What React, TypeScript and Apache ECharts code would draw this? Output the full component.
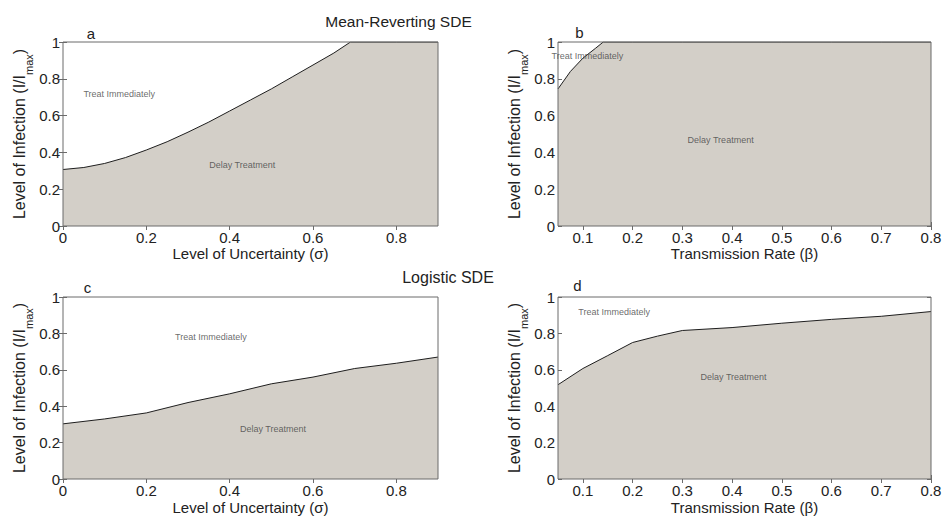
import { useEffect, useRef } from "react";
import * as echarts from "echarts";

// Panel a: Mean-Reverting SDE, boundary vs. level of uncertainty
const sigmaA = [0, 0.05, 0.1, 0.15, 0.2, 0.25, 0.3, 0.35, 0.4, 0.45, 0.5, 0.55, 0.6, 0.65, 0.69, 0.8, 0.9];
const levelA = [0.307, 0.318, 0.34, 0.372, 0.413, 0.458, 0.51, 0.565, 0.625, 0.685, 0.745, 0.81, 0.875, 0.94, 1, 1, 1];
// Panel b: Mean-Reverting SDE, boundary vs. transmission rate
const betaB = [0.05, 0.075, 0.1, 0.125, 0.141, 0.2, 0.3, 0.4, 0.5, 0.6, 0.7, 0.8];
const levelB = [0.745, 0.84, 0.912, 0.965, 1, 1, 1, 1, 1, 1, 1, 1];
// Panel c: Logistic SDE, boundary vs. level of uncertainty
const sigmaC = [0, 0.1, 0.2, 0.3, 0.4, 0.5, 0.6, 0.7, 0.8, 0.9];
const levelC = [0.303, 0.33, 0.363, 0.42, 0.468, 0.523, 0.56, 0.607, 0.636, 0.67];
// Panel d: Logistic SDE, boundary vs. transmission rate
const betaD = [0.05, 0.1, 0.15, 0.2, 0.25, 0.3, 0.4, 0.5, 0.6, 0.7, 0.8];
const levelD = [0.518, 0.607, 0.678, 0.75, 0.785, 0.816, 0.832, 0.856, 0.877, 0.894, 0.92];

const sigmaTicks = [0, 0.2, 0.4, 0.6, 0.8];
const betaTicks = [0.1, 0.2, 0.3, 0.4, 0.5, 0.6, 0.7, 0.8];
const levelTicks = [0, 0.2, 0.4, 0.6, 0.8, 1];

const panelLetters = ["a", "b", "c", "d"];
const rowTitles = ["Mean-Reverting SDE", "Logistic SDE"];
const regionLabels = ["Treat Immediately", "Delay Treatment"];
// annotation anchor points in data coordinates [treat, delay] per panel
const annotA = [[0.135, 0.72], [0.43, 0.33]];
const annotB = [[0.109, 0.925], [0.377, 0.467]];
const annotC = [[0.355, 0.78], [0.504, 0.275]];
const annotD = [[0.163, 0.92], [0.403, 0.563]];

const FONT = "'Liberation Sans', Arial, Helvetica, sans-serif";
const TXT = "#222";
const FILL = "#d3cfc8";
const FRAME = "#6b6b6b";

export default function App() {
  const ref = useRef<HTMLDivElement>(null);
  useEffect(() => {
    if (!ref.current) return;
    const chart = echarts.init(ref.current, undefined, { renderer: "svg" });

    const grids = [
      { left: 63, top: 42, width: 375, height: 184 },
      { left: 558, top: 42, width: 373, height: 184 },
      { left: 63, top: 297, width: 375, height: 182 },
      { left: 558, top: 297, width: 373, height: 182 },
    ];
    const panels = [
      { xs: sigmaA, ys: levelA, min: 0, max: 0.9, ticks: sigmaTicks, name: "Level of Uncertainty (σ)", ann: annotA, gap: 20 },
      { xs: betaB, ys: levelB, min: 0.05, max: 0.8, ticks: betaTicks, name: "Transmission Rate (β)", ann: annotB, gap: 20 },
      { xs: sigmaC, ys: levelC, min: 0, max: 0.9, ticks: sigmaTicks, name: "Level of Uncertainty (σ)", ann: annotC, gap: 21 },
      { xs: betaD, ys: levelD, min: 0.05, max: 0.8, ticks: betaTicks, name: "Transmission Rate (β)", ann: annotD, gap: 21 },
    ];

    const xAxis: any[] = [];
    const yAxis: any[] = [];
    const series: any[] = [];
    const tickStyle = { inside: true, length: 4, lineStyle: { color: FRAME, width: 1 } };

    panels.forEach((p, i) => {
      xAxis.push({
        type: "value", gridIndex: i, position: "bottom", min: p.min, max: p.max,
        axisLine: { show: false },
        axisTick: { ...tickStyle, customValues: p.ticks },
        axisLabel: { customValues: p.ticks, margin: 4, fontSize: 15, color: TXT, fontFamily: FONT, formatter: (v: number) => String(v) },
        splitLine: { show: false },
        name: p.name, nameLocation: "middle", nameGap: p.gap, nameMoveOverlap: false,
        nameTextStyle: { fontSize: 15, color: TXT, fontFamily: FONT },
      });
      xAxis.push({
        type: "value", gridIndex: i, position: "top", min: p.min, max: p.max,
        axisLine: { show: false },
        axisTick: { ...tickStyle, customValues: p.ticks },
        axisLabel: { show: false },
        splitLine: { show: false },
      });
      yAxis.push({
        type: "value", gridIndex: i, position: "left", min: 0, max: 1,
        axisLine: { show: false },
        axisTick: { ...tickStyle, customValues: levelTicks },
        axisLabel: { customValues: levelTicks, margin: 3, fontSize: 15, color: TXT, fontFamily: FONT, formatter: (v: number) => String(v) },
        splitLine: { show: false },
        name: "Level of Infection (I/I{s|max})", nameLocation: "middle", nameGap: 29, nameMoveOverlap: false,
        nameTextStyle: {
          fontSize: 16, color: TXT, fontFamily: FONT, lineHeight: 30,
          rich: { s: { fontSize: 11, color: TXT, fontFamily: FONT, verticalAlign: "bottom", lineHeight: 12 } },
        },
      });
      yAxis.push({
        type: "value", gridIndex: i, position: "right", min: 0, max: 1,
        axisLine: { show: false },
        axisTick: { ...tickStyle, customValues: levelTicks },
        axisLabel: { show: false },
        splitLine: { show: false },
      });
      series.push({
        type: "line", xAxisIndex: i * 2, yAxisIndex: i * 2,
        data: p.xs.map((x, k) => [x, p.ys[k]]),
        showSymbol: false, symbol: "none", silent: true,
        lineStyle: { color: "#1e1e1e", width: 1 },
        areaStyle: { color: FILL, opacity: 1, origin: "start" },
        z: 2,
      });
      series.push({
        type: "scatter", xAxisIndex: i * 2, yAxisIndex: i * 2,
        data: p.ann.map((c, k) => ({ value: c, name: regionLabels[k] })),
        symbolSize: 0, silent: true, z: 4,
        label: { show: true, position: "inside", formatter: "{b}", fontSize: 9, color: "#444", fontFamily: FONT },
      });
    });

    const letterPos = [[91, 33], [579.5, 32.5], [87.5, 287.5], [577.5, 285]];
    const graphic: any[] = [
      { type: "text", x: 398.5, y: 21, z: 10, style: { text: rowTitles[0], fontSize: 15.5, fontFamily: FONT, fill: TXT, align: "center", verticalAlign: "middle" } },
      { type: "text", x: 448, y: 277, z: 10, style: { text: rowTitles[1], fontSize: 16, fontFamily: FONT, fill: TXT, align: "center", verticalAlign: "middle" } },
      ...panelLetters.map((t, i) => ({
        type: "text", x: letterPos[i][0], y: letterPos[i][1], z: 10,
        style: { text: t, fontSize: 15, fontFamily: FONT, fill: TXT, align: "center", verticalAlign: "middle" },
      })),
    ];

    chart.setOption({
      animation: false,
      backgroundColor: "#ffffff",
      grid: grids.map((g) => ({
        ...g, show: true, borderColor: FRAME, borderWidth: 1, backgroundColor: "transparent",
        z: 3, containLabel: false, outerBoundsMode: "none",
      })),
      xAxis, yAxis, series, graphic,
    });
    return () => chart.dispose();
  }, []);
  return <div ref={ref} style={{ position: "fixed", left: 0, top: 0, width: 944, height: 518 }} />;
}
